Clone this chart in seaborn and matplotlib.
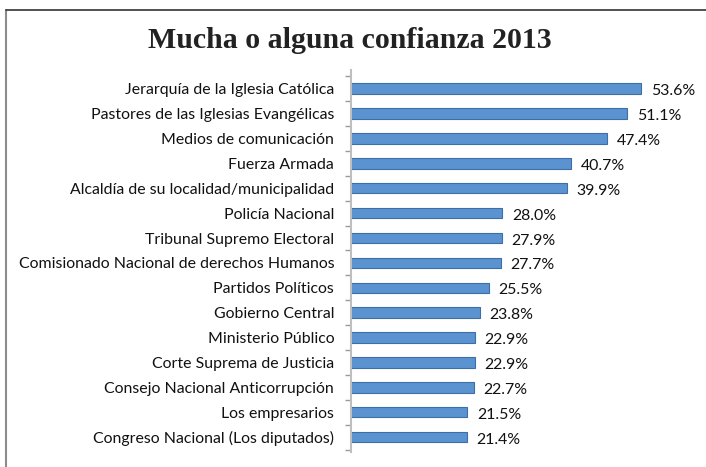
import matplotlib
matplotlib.use("Agg")
import matplotlib.pyplot as plt
import seaborn as sns
import pandas as pd
import numpy as np
from matplotlib.lines import Line2D

categories = [
    "Jerarquía de la Iglesia Católica",
    "Pastores de las Iglesias Evangélicas",
    "Medios de comunicación",
    "Fuerza Armada",
    "Alcaldía de su localidad/municipalidad",
    "Policía Nacional",
    "Tribunal Supremo Electoral",
    "Comisionado Nacional de derechos Humanos",
    "Partidos Políticos",
    "Gobierno Central",
    "Ministerio Público",
    "Corte Suprema de Justicia",
    "Consejo Nacional Anticorrupción",
    "Los empresarios",
    "Congreso Nacional (Los diputados)",
]
values = [53.6, 51.1, 47.4, 40.7, 39.9, 28.0, 27.9, 27.7, 25.5, 23.8, 22.9, 22.9, 22.7, 21.5, 21.4]

df = pd.DataFrame({"cat": categories, "val": values})

sns.set_style("white")
plt.rcParams["font.family"] = ["Lato", "DejaVu Sans"]

fig = plt.figure(figsize=(7.06, 4.67), dpi=100)
ax = fig.add_axes([0.497, 0.032, 0.46, 0.818])

sns.barplot(data=df, x="val", y="cat", orient="h", color="#5b93d1", saturation=1,
            edgecolor="#3d6ea8", linewidth=0.8, width=0.42, ax=ax)

ax.set_xlim(0, 60)
ax.set_ylim(14.6, -0.75)
ax.set_xlabel("")
ax.set_ylabel("")
ax.set_xticks([])
for s in ["top", "right", "bottom"]:
    ax.spines[s].set_visible(False)
ax.spines["left"].set_color("#bfbfbf")
ax.spines["left"].set_linewidth(1.5)
ax.tick_params(axis="y", which="major", left=False, length=0, labelsize=11.4, pad=12, colors="#111111")
ax.set_yticks(np.arange(len(categories) + 1) - 0.5, minor=True)
ax.tick_params(axis="y", which="minor", left=True, length=4, width=1, colors="#9a9a9a")

for i, v in enumerate(values):
    ax.text(v + 1.8, i + 0.1, f"{v:.1f}%", va="center", ha="left",
            fontsize=11.4, color="#111111")

fig.suptitle("Mucha o alguna confianza 2013", x=0.495, y=0.942,
             fontsize=21.5, fontweight="bold", family=["Liberation Serif", "DejaVu Serif"],
             color="#222222")

fig.add_artist(Line2D([6/706, 6/706], [0, 1 - 10/467], transform=fig.transFigure,
                      color="#8c8c8c", linewidth=1.5))
fig.add_artist(Line2D([6/706, 1], [1 - 10/467, 1 - 10/467], transform=fig.transFigure,
                      color="#333333", linewidth=1.2))

fig.savefig("out.png", dpi=100)
